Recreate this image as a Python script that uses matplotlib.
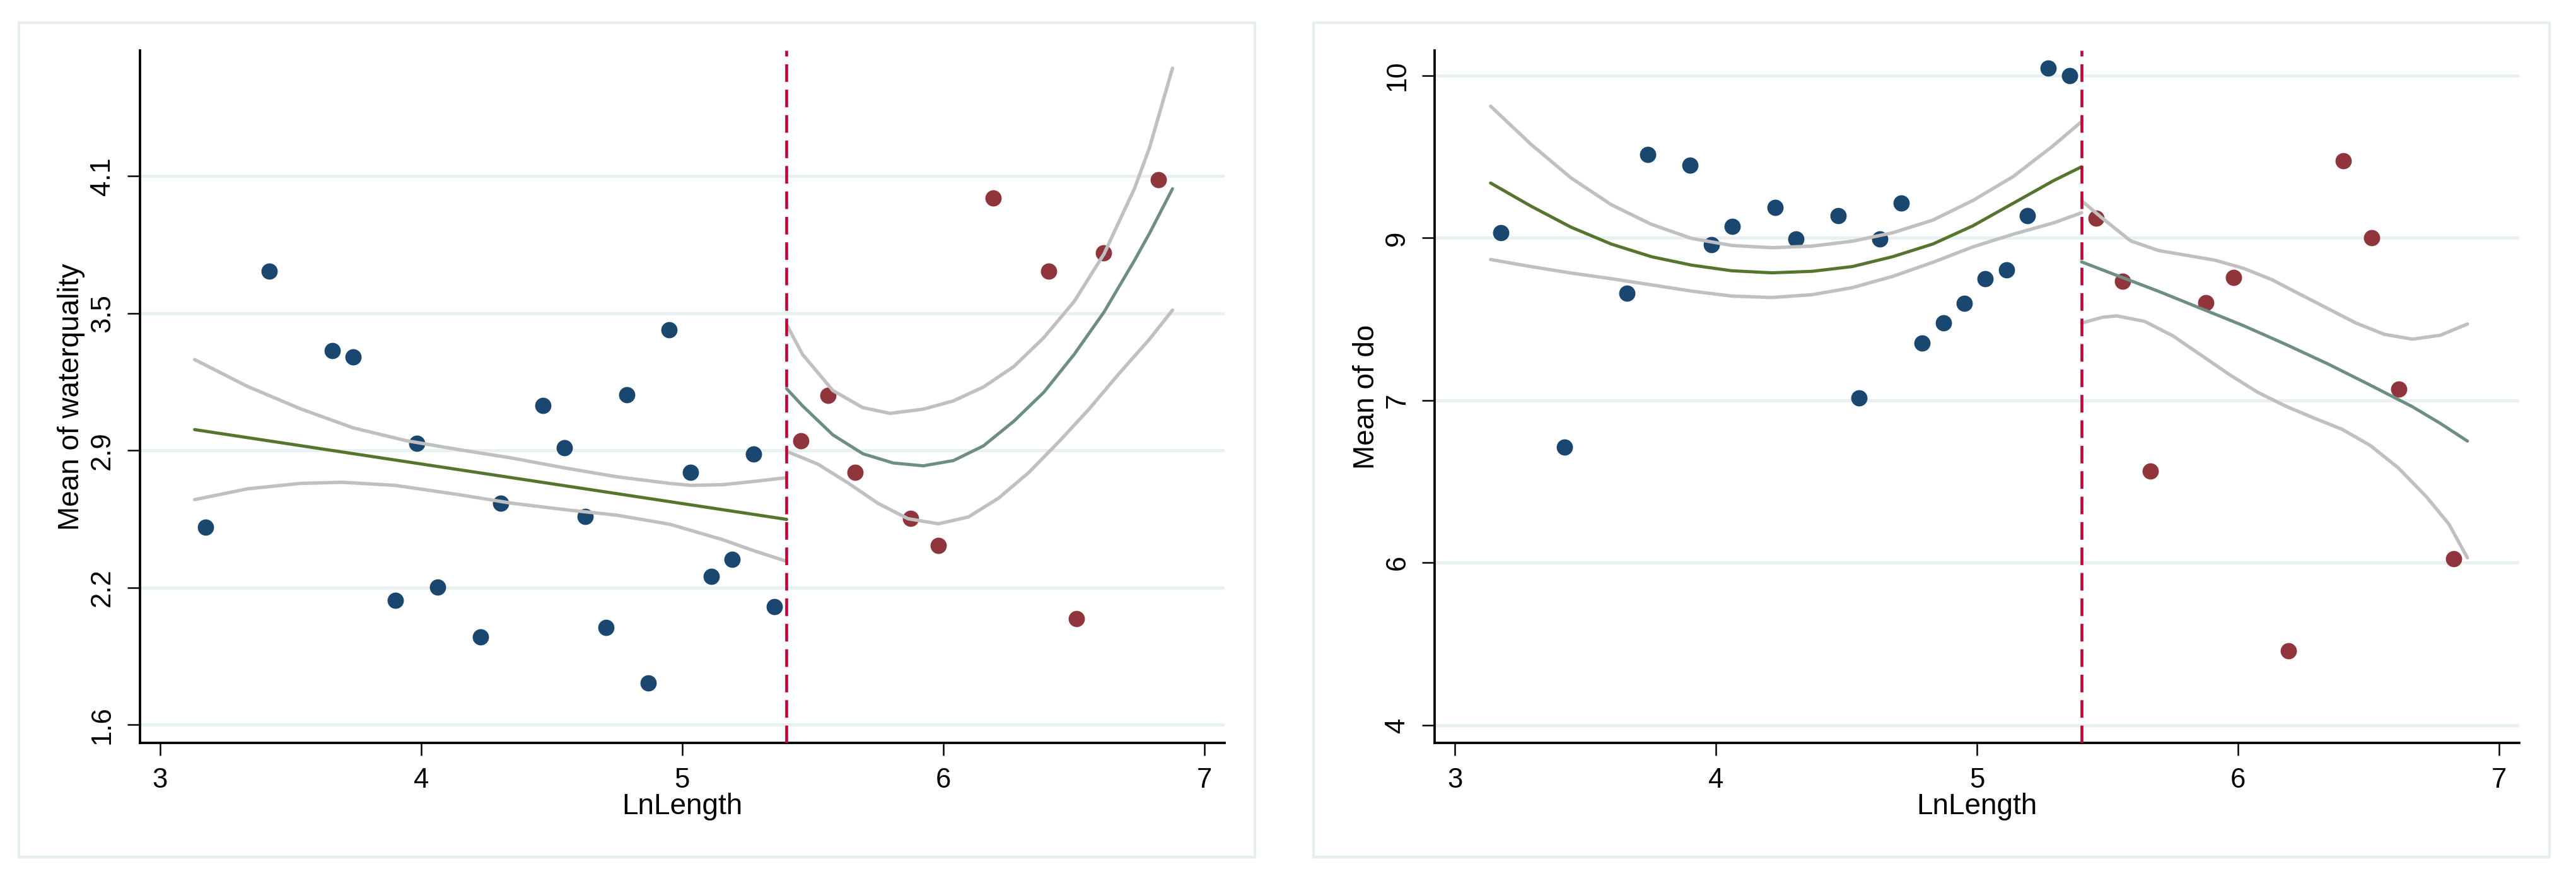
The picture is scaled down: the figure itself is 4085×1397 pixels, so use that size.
import matplotlib
matplotlib.use("Agg")
import matplotlib.pyplot as plt
from matplotlib.patches import Rectangle

plt.rcParams['font.family'] = ['Liberation Sans', 'DejaVu Sans']

# cut point on LnLength
cutoff = 5.4

# LnLength of the sites below / above the cut point
x_below = [3.174, 3.418, 3.659, 3.739, 3.900, 3.983, 4.062, 4.226, 4.305, 4.467, 4.548,
           4.627, 4.709, 4.788, 4.870, 4.950, 5.031, 5.112, 5.192, 5.273, 5.354]
x_above = [5.455, 5.558, 5.663, 5.875, 5.981, 6.192, 6.403, 6.511, 6.614, 6.825]

# mean of waterquality
wq_below = [2.500, 3.667, 3.305, 3.277, 2.166, 2.882, 2.228, 2.002, 2.610, 3.055, 2.862,
            2.550, 2.043, 3.104, 1.792, 3.400, 2.750, 2.277, 2.355, 2.835, 2.139]
wq_above = [2.894, 3.100, 2.749, 2.542, 2.418, 3.999, 3.666, 2.084, 3.749, 4.084]

# mean of do
do_below = [8.551, 6.566, 7.991, 9.271, 9.170, 8.436, 8.608, 8.780, 8.488, 8.707, 7.021,
            8.488, 8.821, 7.526, 7.718, 7.895, 8.124, 8.205, 8.704, 10.070, 9.997]
do_above = [8.684, 8.101, 6.344, 7.902, 8.136, 4.687, 9.216, 8.502, 7.102, 5.538]

# fitted lines and confidence bands
wq_lo_fit_x = [3.132, 5.400]
wq_lo_fit_y = [2.945, 2.536]
wq_lo_up_x = [3.132, 3.334, 3.537, 3.739, 3.941, 4.143, 4.345, 4.547, 4.750, 4.952, 5.033, 5.154, 5.275, 5.400]
wq_lo_up_y = [3.264, 3.142, 3.040, 2.953, 2.895, 2.854, 2.816, 2.771, 2.730, 2.700, 2.691, 2.694, 2.709, 2.726]
wq_lo_dn_x = [3.132, 3.334, 3.537, 3.698, 3.900, 4.143, 4.345, 4.547, 4.750, 4.952, 5.154, 5.275, 5.400]
wq_lo_dn_y = [2.626, 2.675, 2.700, 2.705, 2.691, 2.649, 2.610, 2.581, 2.555, 2.514, 2.444, 2.393, 2.345]

wq_hi_fit_x = [5.400, 5.461, 5.577, 5.692, 5.808, 5.923, 6.039, 6.154, 6.270, 6.385, 6.501, 6.616, 6.732, 6.790, 6.878]
wq_hi_fit_y = [3.131, 3.053, 2.921, 2.835, 2.793, 2.780, 2.804, 2.871, 2.983, 3.115, 3.287, 3.481, 3.715, 3.839, 4.042]
wq_hi_up_x = [5.400, 5.461, 5.577, 5.692, 5.796, 5.923, 6.039, 6.154, 6.270, 6.385, 6.501, 6.616, 6.732, 6.790, 6.878]
wq_hi_up_y = [3.423, 3.287, 3.123, 3.045, 3.019, 3.038, 3.076, 3.139, 3.232, 3.364, 3.528, 3.746, 4.042, 4.229, 4.591]
wq_hi_dn_x = [5.400, 5.519, 5.634, 5.750, 5.865, 5.981, 6.096, 6.212, 6.327, 6.443, 6.558, 6.674, 6.790, 6.878]
wq_hi_dn_y = [2.846, 2.788, 2.703, 2.609, 2.539, 2.516, 2.547, 2.633, 2.749, 2.890, 3.038, 3.201, 3.357, 3.489]

do_lo_x = [3.136, 3.290, 3.444, 3.598, 3.752, 3.906, 4.060, 4.214, 4.368, 4.522, 4.676, 4.830, 4.984, 5.138, 5.292, 5.400]
do_lo_fit_y = [9.008, 8.795, 8.600, 8.444, 8.327, 8.249, 8.197, 8.178, 8.192, 8.236, 8.327, 8.444, 8.613, 8.821, 9.029, 9.158]
do_lo_up_y = [9.718, 9.367, 9.055, 8.808, 8.626, 8.496, 8.431, 8.410, 8.425, 8.470, 8.548, 8.665, 8.847, 9.068, 9.354, 9.576]
do_lo_dn_y = [8.301, 8.236, 8.176, 8.124, 8.067, 8.009, 7.963, 7.950, 7.976, 8.041, 8.145, 8.275, 8.418, 8.535, 8.639, 8.733]

do_hi_fit_x = [5.400, 5.535, 5.696, 5.858, 6.020, 6.181, 6.343, 6.505, 6.667, 6.774, 6.878]
do_hi_fit_y = [8.279, 8.154, 8.006, 7.848, 7.690, 7.518, 7.337, 7.141, 6.941, 6.787, 6.623]
do_hi_up_x = [5.400, 5.480, 5.588, 5.696, 5.804, 5.912, 6.020, 6.128, 6.235, 6.343, 6.451, 6.559, 6.667, 6.774, 6.878]
do_hi_up_y = [8.844, 8.681, 8.473, 8.383, 8.339, 8.294, 8.220, 8.116, 7.982, 7.848, 7.714, 7.610, 7.565, 7.601, 7.705]
do_hi_dn_x = [5.400, 5.480, 5.535, 5.642, 5.750, 5.858, 5.966, 6.074, 6.181, 6.289, 6.397, 6.505, 6.613, 6.721, 6.807, 6.878]
do_hi_dn_y = [7.714, 7.767, 7.780, 7.729, 7.595, 7.417, 7.238, 7.075, 6.947, 6.837, 6.733, 6.584, 6.376, 6.108, 5.856, 5.544]

# axis ticks
x_ticks = [3, 4, 5, 6, 7]
wq_ticks = [1.6, 2.225, 2.85, 3.475, 4.1]
wq_tick_labels = ['1.6', '2.2', '2.9', '3.5', '4.1']
do_ticks = [4, 5.5, 7, 8.5, 10]
do_tick_labels = ['4', '6', '7', '9', '10']

navy = '#1a476f'
maroon = '#90353b'
green = '#55752f'
teal = '#6e8e84'
ci_gray = '#c0c0c0'
xline_red = '#c10534'
grid_col = '#e9f0f2'

W, H = 4086, 1397
fig = plt.figure(figsize=(W / 300, H / 300), dpi=300)

# outer borders of the two graphs
for x0 in [30, 2083]:
    fig.patches.append(Rectangle((x0 / W, 1 - 1359 / H), 1960 / W, 1323 / H,
                                 transform=fig.transFigure, fill=False,
                                 edgecolor='#e6eef0', linewidth=1.0))


def draw_panel(left_px, ylim, yticks, ylabels, ytitle, y_lo, y_hi, lines):
    ax = fig.add_axes([left_px / W, 1 - 1178 / H, 1720 / W, 1098 / H])
    ax.set_xlim(2.922, 7.077)
    ax.set_ylim(*ylim)
    ax.set_xticks(x_ticks)
    ax.set_yticks(yticks)
    ax.set_yticklabels(ylabels)
    for t in yticks:
        ax.axhline(t, color=grid_col, linewidth=1.2, zorder=0)

    ax.plot(x_below, y_lo, 'o', color=navy, markersize=6.2, markeredgewidth=0, zorder=2)
    ax.plot(x_above, y_hi, 'o', color=maroon, markersize=6.2, markeredgewidth=0, zorder=2)

    for (lx, ly, col, lw) in lines:
        ax.plot(lx, ly, color=col, linewidth=lw, solid_capstyle='round',
                solid_joinstyle='round', zorder=3)

    ax.axvline(cutoff, color=xline_red, linewidth=1.1, dashes=(6.1, 2.7), zorder=4)

    for s in ['top', 'right']:
        ax.spines[s].set_visible(False)
    for s in ['left', 'bottom']:
        ax.spines[s].set_linewidth(0.9)
    ax.tick_params(axis='both', length=4.8, width=0.6, labelsize=10.5, pad=4.5)
    plt.setp(ax.get_yticklabels(), rotation=90, va='center')
    ax.set_xlabel('LnLength', fontsize=11)
    ax.xaxis.set_label_coords(0.5, -0.072)
    ax.set_ylabel(ytitle, fontsize=11, va='center')
    ax.yaxis.set_label_coords(-0.063, 0.5)
    return ax


draw_panel(221.7, (1.518, 4.672), wq_ticks, wq_tick_labels, 'Mean of waterquality',
           wq_below, wq_above,
           [(wq_lo_up_x, wq_lo_up_y, ci_gray, 1.3), (wq_lo_dn_x, wq_lo_dn_y, ci_gray, 1.3),
            (wq_lo_fit_x, wq_lo_fit_y, green, 1.2),
            (wq_hi_up_x, wq_hi_up_y, ci_gray, 1.3), (wq_hi_dn_x, wq_hi_dn_y, ci_gray, 1.3),
            (wq_hi_fit_x, wq_hi_fit_y, teal, 1.2)])

draw_panel(2275.2, (3.834, 10.233), do_ticks, do_tick_labels, 'Mean of do',
           do_below, do_above,
           [(do_lo_x, do_lo_up_y, ci_gray, 1.3), (do_lo_x, do_lo_dn_y, ci_gray, 1.3),
            (do_lo_x, do_lo_fit_y, green, 1.2),
            (do_hi_up_x, do_hi_up_y, ci_gray, 1.3), (do_hi_dn_x, do_hi_dn_y, ci_gray, 1.3),
            (do_hi_fit_x, do_hi_fit_y, teal, 1.2)])

fig.savefig('out.png', dpi=300, facecolor='white')
